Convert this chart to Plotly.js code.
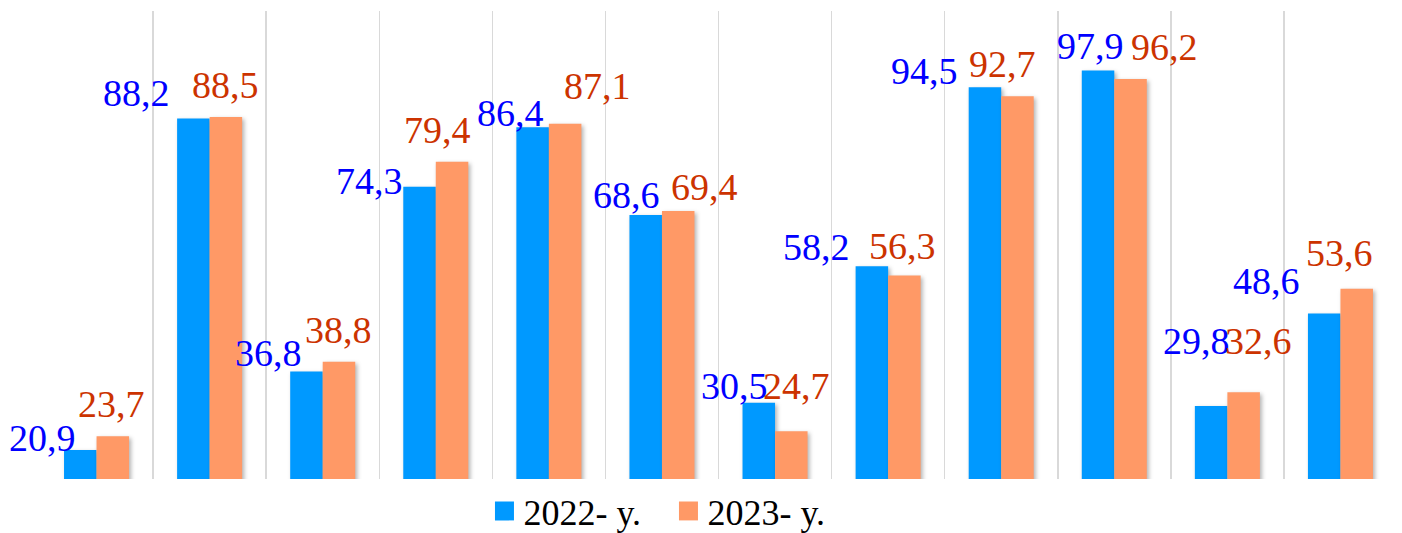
<!DOCTYPE html>
<html>
<head>
<meta charset="utf-8">
<script src="https://cdn.plot.ly/plotly-3.0.1.min.js"></script>
<style>
  html, body { margin: 0; padding: 0; background: #ffffff; }
  #chart { width: 1402px; height: 533px; }
  svg text { font-family: 'Liberation Serif', 'Times New Roman', serif !important; }
  #chart .barlayer .point path { filter: drop-shadow(2px 2px 2px rgba(0,0,0,0.30)); }
</style>
</head>
<body>
<div id="chart"></div>
<script>
// ---- data ----
const categories = ["1", "2", "3", "4", "5", "6", "7", "8", "9", "10", "11", "12"];
const seriesNames = ["2022- y.", "2023- y."];
const values2022 = [20.9, 88.2, 36.8, 74.3, 86.4, 68.6, 30.5, 58.2, 94.5, 97.9, 29.8, 48.6];
const values2023 = [23.7, 88.5, 38.8, 79.4, 87.1, 69.4, 24.7, 56.3, 92.7, 96.2, 32.6, 53.6];
const labels2022 = ["20,9", "88,2", "36,8", "74,3", "86,4", "68,6", "30,5", "58,2", "94,5", "97,9", "29,8", "48,6"];
const labels2023 = ["23,7", "88,5", "38,8", "79,4", "87,1", "69,4", "24,7", "56,3", "92,7", "96,2", "32,6", "53,6"];

// ---- label placement tweaks (pixels, relative to bar top centre) ----
const shiftX2022 = [-38, -57, -38, -50, -22, -19, -24, -55, -60, -8, -15, -58];
const shiftY2022 = [12, 25, 19, 6, 14, 20, 17, 19, 16, 25, 65, 32];
const shiftX2023 = [-1, 0, 0, -15, 32, 26, 5, -2, -15, 34, 15, -17];
const shiftY2023 = [32, 32, 32, 32, 38, 24, 45, 30, 32, 32, 51, 36];

// ---- styles ----
const color2022 = "#0099FF";
const color2023 = "#FF9966";
const labelColor2022 = "#0000FF";
const labelColor2023 = "#CC3300";
const serif = "Liberation Serif";
const bargap = 0.425;
const barOffset = (1 - bargap) / 4;

const traces = [
  { type: "bar", name: seriesNames[0], x: categories, y: values2022,
    marker: { color: color2022 }, hoverinfo: "none" },
  { type: "bar", name: seriesNames[1], x: categories, y: values2023,
    marker: { color: color2023 }, hoverinfo: "none" }
];

const annotations = [];
categories.forEach((c, i) => {
  annotations.push({
    x: i - barOffset, y: values2022[i], xref: "x", yref: "y",
    text: labels2022[i], showarrow: false,
    xanchor: "center", yanchor: "middle",
    xshift: shiftX2022[i], yshift: shiftY2022[i],
    font: { family: serif, size: 38, color: labelColor2022 }
  });
  annotations.push({
    x: i + barOffset, y: values2023[i], xref: "x", yref: "y",
    text: labels2023[i], showarrow: false,
    xanchor: "center", yanchor: "middle",
    xshift: shiftX2023[i], yshift: shiftY2023[i],
    font: { family: serif, size: 38, color: labelColor2023 }
  });
});

const layout = {
  width: 1402, height: 533,
  margin: { l: 40, r: 5, t: 11, b: 54, pad: 0, autoexpand: false },
  paper_bgcolor: "#ffffff", plot_bgcolor: "#ffffff",
  barmode: "group", bargap: bargap, bargroupgap: 0,
  font: { family: serif, color: "#000000" },
  xaxis: {
    type: "category", range: [-0.5, categories.length - 0.5], autorange: false,
    showgrid: true, gridcolor: "#d9d9d9", gridwidth: 1.5,
    tickson: "boundaries", showticklabels: false, ticks: "",
    zeroline: false, showline: false, fixedrange: true
  },
  yaxis: {
    range: [15, 110], autorange: false, showgrid: false, zeroline: false,
    showticklabels: false, ticks: "", showline: false, fixedrange: true
  },
  showlegend: true,
  legend: {
    orientation: "h", x: 0.3268, xanchor: "left", y: -0.0684, yanchor: "middle",
    entrywidth: 139, entrywidthmode: "pixels",
    font: { family: serif, size: 36, color: "#000000" },
    bgcolor: "rgba(0,0,0,0)", borderwidth: 0, traceorder: "normal"
  },
  annotations: annotations
};

function fixLegend() {
  document.querySelectorAll("#chart .legend .legendpoints path").forEach(p => {
    p.setAttribute("d", "M10.5,9.5H-8.5V-9.5H10.5Z");
  });
}

Plotly.newPlot("chart", traces, layout, { displayModeBar: false, staticPlot: true }).then(gd => {
  fixLegend();
  gd.on("plotly_afterplot", fixLegend);
});
</script>
</body>
</html>
